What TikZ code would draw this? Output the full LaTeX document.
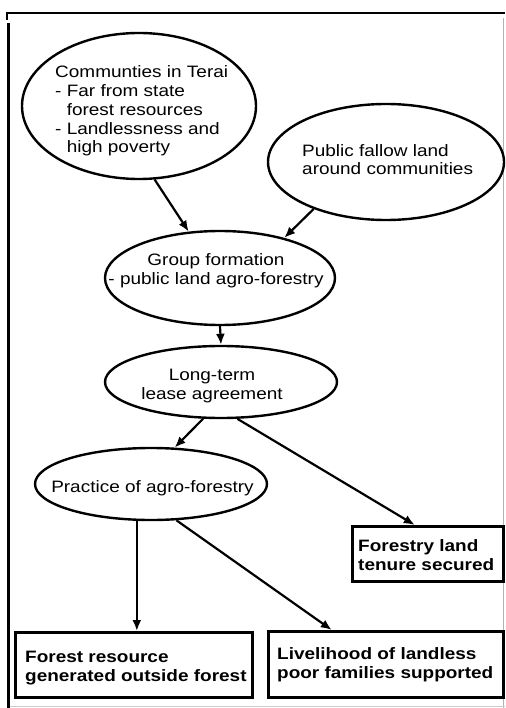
\documentclass[tikz,border=0pt]{standalone}
\usepackage{fontspec}
\setmainfont{Liberation Sans}[FakeStretch=1.15]
\usetikzlibrary{arrows.meta,shapes.geometric,calc}

\begin{document}
\begin{tikzpicture}[x=1pt,y=-1pt,
  oval/.style={draw,ellipse,line width=2.4pt,inner sep=0pt},
  outbox/.style={draw,rectangle,line width=2.6pt,inner sep=0pt,anchor=north west},
  txt/.style={inner sep=0pt,font=\fontsize{16.5}{18.8}\selectfont},
  btxt/.style={inner sep=0pt,font=\fontsize{16.5}{18.8}\selectfont\bfseries},
  arr/.style={line width=2.2pt,-{Latex[length=11pt,width=9pt]}},
]
\useasboundingbox (0,0) rectangle (505,708);

% page frame
\draw[line width=2.5pt] (7,20) -- (7,13) -- (505,13);
\draw[line width=2.8pt] (8.5,23) -- (8.5,708);
\draw[gray!60,line width=1pt] (503.5,18) -- (503.5,708);
\draw[gray!40,line width=0.8pt] (10,706.5) -- (505,706.5);

% ellipses
\node[oval,minimum width=234pt,minimum height=146pt] (e1) at (139,106) {};
\node[oval,minimum width=236pt,minimum height=116pt] (e2) at (386,162) {};
\node[oval,minimum width=230pt,minimum height=94pt]  (e3) at (220,278) {};
\node[oval,minimum width=232pt,minimum height=72pt]  (e4) at (221,382) {};
\node[oval,minimum width=232pt,minimum height=72pt]  (e5) at (151,484) {};

% outcome boxes
\node[outbox,minimum width=151pt,minimum height=55pt] (b1) at (351,525) {};
\node[outbox,minimum width=237pt,minimum height=65pt] (b2) at (14,631) {};
\node[outbox,minimum width=235pt,minimum height=66pt] (b3) at (267,630) {};

% texts (base anchor = baseline of the last line)
\node[txt,align=left,anchor=base west] (t1) at (55,153)
  {Communties in Terai\\- Far from state\\\hspace*{11.6pt}forest resources\\- Landlessness and\\\hspace*{11.6pt}high poverty};
\node[txt,align=left,anchor=base west] (t2) at (302,175)
  {Public fallow land\\around communities};
\node[txt,align=center,anchor=base] (t3) at (216,284)
  {Group formation\\- public land agro-forestry};
\node[txt,align=center,anchor=base] (t4) at (212,399)
  {Long-term\\lease agreement};
\node[txt,anchor=base] (t5) at (152.5,492) {Practice of agro-forestry};
\node[btxt,align=left,anchor=base west] (t6) at (358,570)
  {Forestry land\\tenure secured};
\node[btxt,align=left,anchor=base west] (t7) at (25,681)
  {Forest resource\\generated outside forest};
\node[btxt,align=left,anchor=base west] (t8) at (277,678)
  {Livelihood of landless\\poor families supported};

% connectors
\draw[arr] (e1.-78) -- (e3.124);
\draw[arr] (e2.-147) -- (e3.32);
\draw[arr] (e3.south) -- (e4.north);
\draw[arr] (e4.-116.6) -- (e5.57.5);
\draw[arr] (e4.-66) -- ([xshift=-13pt]b1.north);
\draw[arr] (e5.-111.4) -- (e5.-111.4 |- b2.north);
\draw[arr] (e5.-55.7) -- ([xshift=-54pt]b3.north);
\end{tikzpicture}
\end{document}
